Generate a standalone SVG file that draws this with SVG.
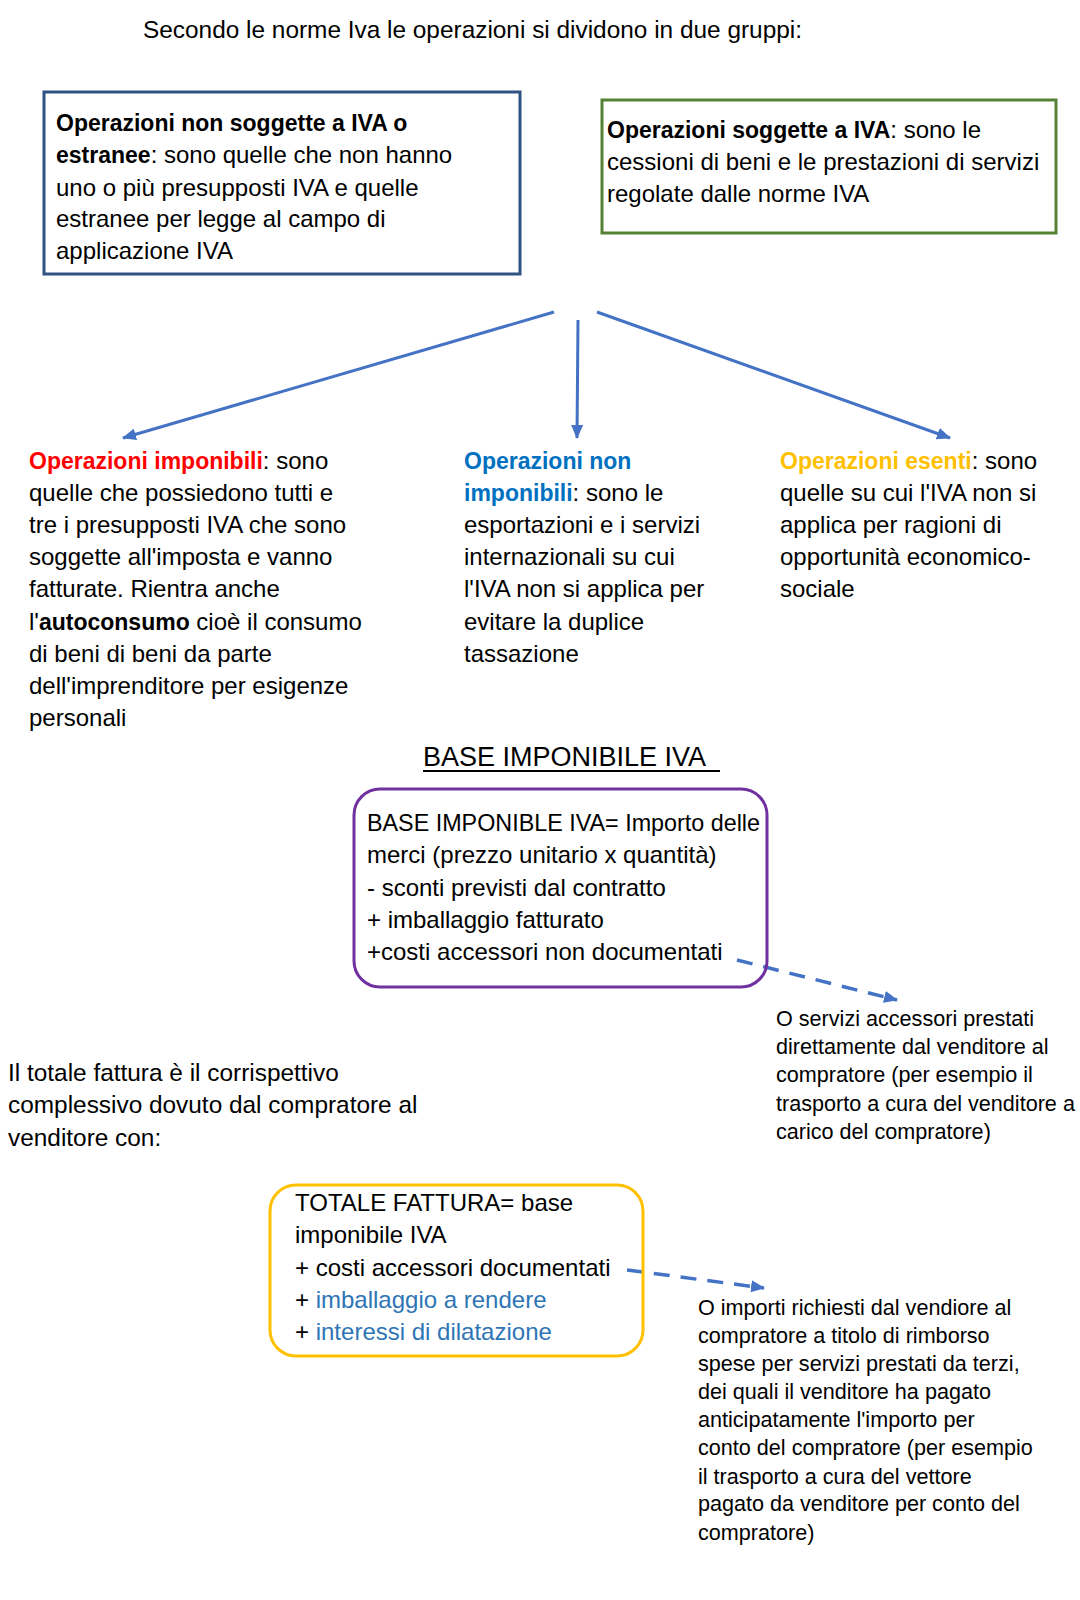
<svg xmlns="http://www.w3.org/2000/svg" width="1080" height="1600" viewBox="0 0 1080 1600">
<defs>
<style>
text{font-family:"Liberation Sans",Arial,sans-serif;font-size:24px;fill:#000}
.b{font-weight:bold;font-size:23px}
.s{font-size:21.6px}
.red{fill:#FF0000}
.blu{fill:#0070C0}
.gold{fill:#FFC000}
.lb{fill:#2E75B6}
.con{stroke:#4472C4;stroke-width:3;fill:none}
.dash{stroke-width:3.5;stroke-dasharray:16 11}
</style>
<marker id="ah" viewBox="0 0 14 12" refX="13" refY="6" markerWidth="14" markerHeight="12" markerUnits="userSpaceOnUse" orient="auto">
<path d="M0,0 L14,6 L0,12 z" fill="#4472C4"/>
</marker>
</defs>
<rect width="1080" height="1600" fill="#fff"/>

<text x="143" y="38" style="font-size:24.4px">Secondo le norme Iva le operazioni si dividono in due gruppi:</text>

<g id="non-soggette">
<rect x="44" y="92" width="476" height="182" fill="none" stroke="#2E5283" stroke-width="3"/>
<text x="56" y="131"><tspan class="b">Operazioni non soggette a IVA o</tspan></text>
<text x="56" y="163"><tspan class="b">estranee</tspan>: sono quelle che non hanno</text>
<text x="56" y="196">uno o più presupposti IVA e quelle</text>
<text x="56" y="227">estranee per legge al campo di</text>
<text x="56" y="259">applicazione IVA</text>
</g>

<g id="soggette">
<rect x="602" y="100" width="454" height="133" fill="none" stroke="#548235" stroke-width="3"/>
<text x="607" y="138"><tspan class="b">Operazioni soggette a IVA</tspan>: sono le</text>
<text x="607" y="170">cessioni di beni e le prestazioni di servizi</text>
<text x="607" y="202">regolate dalle norme IVA</text>
</g>

<g id="connectors">
<line class="con" x1="554" y1="312" x2="123" y2="438" marker-end="url(#ah)"/>
<line class="con" x1="578" y1="320" x2="577" y2="438" marker-end="url(#ah)"/>
<line class="con" x1="597" y1="312" x2="950" y2="438" marker-end="url(#ah)"/>
<line class="con dash" x1="737" y1="960" x2="897" y2="1000" marker-end="url(#ah)"/>
<line class="con dash" x1="627" y1="1270" x2="764" y2="1288" marker-end="url(#ah)"/>
</g>

<g id="imponibili">
<text x="29" y="469"><tspan class="b red">Operazioni imponibili</tspan>: sono</text>
<text x="29" y="501">quelle che possiedono tutti e</text>
<text x="29" y="533">tre i presupposti IVA che sono</text>
<text x="29" y="565">soggette all'imposta e vanno</text>
<text x="29" y="597">fatturate. Rientra anche</text>
<text x="29" y="630">l'<tspan class="b">autoconsumo</tspan> cioè il consumo</text>
<text x="29" y="662">di beni di beni da parte</text>
<text x="29" y="694">dell'imprenditore per esigenze</text>
<text x="29" y="726">personali</text>
</g>

<g id="non-imponibili">
<text x="464" y="469"><tspan class="b blu">Operazioni non</tspan></text>
<text x="464" y="501"><tspan class="b blu">imponibili</tspan>: sono le</text>
<text x="464" y="533">esportazioni e i servizi</text>
<text x="464" y="565">internazionali su cui</text>
<text x="464" y="597">l'IVA non si applica per</text>
<text x="464" y="630">evitare la duplice</text>
<text x="464" y="662">tassazione</text>
</g>

<g id="esenti">
<text x="780" y="469"><tspan class="b gold">Operazioni esenti</tspan>: sono</text>
<text x="780" y="501">quelle su cui l'IVA non si</text>
<text x="780" y="533">applica per ragioni di</text>
<text x="780" y="565">opportunità economico-</text>
<text x="780" y="597">sociale</text>
</g>

<g id="heading">
<text x="423" y="766" style="font-size:27px">BASE IMPONIBILE IVA</text>
<line x1="423" y1="771" x2="720" y2="771" stroke="#000" stroke-width="1.8"/>
</g>

<g id="base-imponibile">
<rect x="354" y="789" width="413" height="198" rx="26" fill="none" stroke="#7030A0" stroke-width="3"/>
<text x="367" y="831" textLength="393" lengthAdjust="spacingAndGlyphs">BASE IMPONIBLE IVA= Importo delle</text>
<text x="367" y="863">merci (prezzo unitario x quantità)</text>
<text x="367" y="896">- sconti previsti dal contratto</text>
<text x="367" y="928">+ imballaggio fatturato</text>
<text x="367" y="960">+costi accessori non documentati</text>
</g>

<g id="servizi-accessori">
<text class="s" x="776" y="1026">O servizi accessori prestati</text>
<text class="s" x="776" y="1054">direttamente dal venditore al</text>
<text class="s" x="776" y="1082">compratore (per esempio il</text>
<text class="s" x="776" y="1111">trasporto a cura del venditore a</text>
<text class="s" x="776" y="1139">carico del compratore)</text>
</g>

<g id="totale-intro">
<text x="8" y="1081" style="font-size:24.4px">Il totale fattura è il corrispettivo</text>
<text x="8" y="1113" style="font-size:24.4px">complessivo dovuto dal compratore al</text>
<text x="8" y="1146" style="font-size:24.4px">venditore con:</text>
</g>

<g id="totale-fattura">
<rect x="270" y="1185" width="373" height="171" rx="26" fill="none" stroke="#FFC000" stroke-width="3"/>
<text x="295" y="1211">TOTALE FATTURA= base</text>
<text x="295" y="1243">imponibile IVA</text>
<text x="295" y="1276">+ costi accessori documentati</text>
<text x="295" y="1308">+ <tspan class="lb">imballaggio a rendere</tspan></text>
<text x="295" y="1340">+ <tspan class="lb">interessi di dilatazione</tspan></text>
</g>

<g id="importi-rimborso">
<text class="s" x="698" y="1315">O importi richiesti dal vendiore al</text>
<text class="s" x="698" y="1343">compratore a titolo di rimborso</text>
<text class="s" x="698" y="1371">spese per servizi prestati da terzi,</text>
<text class="s" x="698" y="1399">dei quali il venditore ha pagato</text>
<text class="s" x="698" y="1427">anticipatamente l'importo per</text>
<text class="s" x="698" y="1455">conto del compratore (per esempio</text>
<text class="s" x="698" y="1484">il trasporto a cura del vettore</text>
<text class="s" x="698" y="1511">pagato da venditore per conto del</text>
<text class="s" x="698" y="1540">compratore)</text>
</g>
</svg>
